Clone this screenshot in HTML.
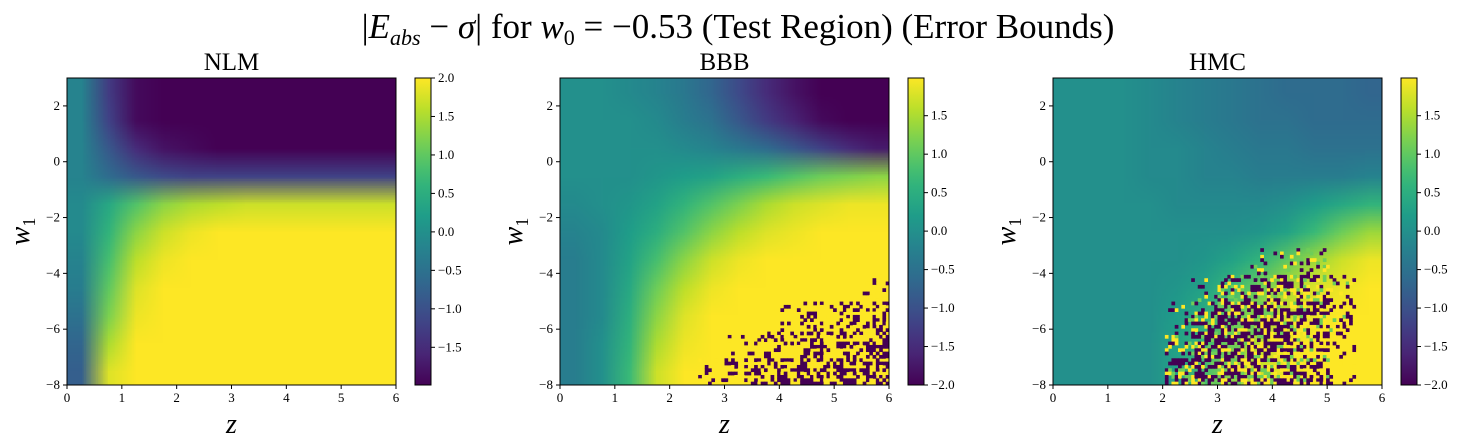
<!DOCTYPE html>
<html><head><meta charset="utf-8">
<style>
body{margin:0;background:#fff;width:1464px;height:448px;overflow:hidden;font-family:"Liberation Serif","DejaVu Serif",serif;}
svg{position:absolute;left:0;top:0}
</style></head>
<body>
<svg id="fig" width="1464" height="448" xmlns="http://www.w3.org/2000/svg">
<text x="738" y="38" text-anchor="middle" font-size="35">|<tspan font-style="italic">E</tspan><tspan font-style="italic" font-size="22" dy="7">abs</tspan><tspan dy="-7"> − </tspan><tspan font-style="italic">σ</tspan>| for <tspan font-style="italic">w</tspan><tspan font-size="22" dy="7">0</tspan><tspan dy="-7"> = −0.53 (Test Region) (Error Bounds)</tspan></text>
</svg>
<script>
const zTicks=[0,1,2,3,4,5,6];
const wTicks=[-8,-6,-4,-2,0,2];
const panelTitles=["NLM","BBB","HMC"];
const cbTicks0=[-1.5,-1.0,-0.5,0.0,0.5,1.0,1.5,2.0];
const cbTicks1=[-2.0,-1.5,-1.0,-0.5,0.0,0.5,1.0,1.5];
const cbRanges=[[-1.99,2.0],[-2.0,1.99],[-2.0,1.99]];
// rows: w1 = 2.5 .. -7.5 ; cols: z = 0.25 .. 5.75
const nlm=[
[-0.2,-1.3,-1.9,-2,-2,-2,-2,-2,-2,-2,-2,-2],
[-0.2,-1.2,-1.9,-2,-2,-2,-2,-2,-2,-2,-2,-2],
[-0.2,-0.9,-1.5,-1.8,-1.9,-2,-2,-2,-2,-2,-2,-2],
[-0.2,-0.6,-0.9,-1.1,-1.2,-1.2,-1.2,-1.2,-1.2,-1.2,-1.2,-1.2],
[-0.1,0.4,0.9,1.3,1.5,1.6,1.7,1.7,1.7,1.7,1.7,1.7],
[-0.1,0.6,1.3,1.7,1.9,2,2,2,2,2,2,2],
[-0.2,0.8,1.6,1.9,2,2,2,2,2,2,2,2],
[-0.3,1.0,1.8,2,2,2,2,2,2,2,2,2],
[-0.5,1.2,1.9,2,2,2,2,2,2,2,2,2],
[-0.7,1.5,2,2,2,2,2,2,2,2,2,2],
[-0.8,1.8,2,2,2,2,2,2,2,2,2,2]];
const bbb=[
[0,0,-0.1,-0.2,-0.4,-0.7,-1.1,-1.5,-1.8,-2,-2,-2],
[0,0,0,-0.1,-0.3,-0.5,-0.9,-1.3,-1.6,-1.9,-2,-2],
[0,0,0,0,-0.1,-0.2,-0.4,-0.6,-0.9,-1.2,-1.5,-1.7],
[0,0,0,0.1,0.2,0.3,0.5,0.7,0.9,1.1,1.2,1.3],
[-0.1,0,0.1,0.3,0.6,0.9,1.2,1.5,1.7,1.8,1.9,1.9],
[-0.2,-0.1,0.2,0.5,0.9,1.3,1.6,1.8,1.9,2,2,2],
[-0.3,-0.1,0.3,0.8,1.3,1.7,1.9,2,2,2,2,2],
[-0.3,-0.1,0.4,1.1,1.6,1.9,2,2,2,2,2,2],
[-0.3,-0.1,0.5,1.3,1.8,2,2,2,2,2,2,2],
[-0.3,0,0.6,1.5,1.9,2,2,2,2,2,2,2],
[-0.3,0,0.7,1.7,2,2,2,2,2,2,2,2]];
const hmc=[
[0,0,0,-0.1,-0.2,-0.3,-0.4,-0.5,-0.6,-0.6,-0.6,-0.7],
[0,0,0,-0.1,-0.2,-0.3,-0.4,-0.5,-0.5,-0.6,-0.6,-0.6],
[0,0,0,-0.1,-0.1,-0.2,-0.3,-0.4,-0.4,-0.5,-0.5,-0.5],
[0,0,0,-0.1,-0.1,-0.2,-0.2,-0.3,-0.3,-0.3,-0.3,-0.2],
[0,0,0,0,-0.1,-0.1,-0.1,-0.1,0,0.2,0.4,0.6],
[0,0,0,0,0,0,0,0.1,0.3,0.7,1.1,1.4],
[0,0,0,0,0,0.1,0.3,0.6,1.0,1.4,1.7,1.9],
[0,0,0,0,0.1,0.3,0.7,1.1,1.5,1.8,1.9,2],
[0,0,0,0,0.2,0.5,1.0,1.4,1.7,1.9,2,2],
[0,0,0,0,0.3,0.7,1.2,1.6,1.9,2,2,2],
[0,0,0,0,0.3,0.8,1.3,1.7,1.9,2,2,2]];
// fraction of noisy (unstable) cells per coarse cell
const bbbNoise=[
[0,0,0,0,0,0,0,0,0,0,0,0],[0,0,0,0,0,0,0,0,0,0,0,0],[0,0,0,0,0,0,0,0,0,0,0,0],
[0,0,0,0,0,0,0,0,0,0,0,0],[0,0,0,0,0,0,0,0,0,0,0,0],[0,0,0,0,0,0,0,0,0,0,0,0],
[0,0,0,0,0,0,0,0,0,0,0,0],[0,0,0,0,0,0,0,0,0,0,0,0.15],
[0,0,0,0,0,0,0,0,0.15,0.3,0.45,0.5],
[0,0,0,0,0,0,0.15,0.35,0.5,0.55,0.6,0.6],
[0,0,0,0,0,0.25,0.5,0.6,0.65,0.65,0.65,0.65]];
const hmcNoise=[
[0,0,0,0,0,0,0,0,0,0,0,0],[0,0,0,0,0,0,0,0,0,0,0,0],[0,0,0,0,0,0,0,0,0,0,0,0],
[0,0,0,0,0,0,0,0,0,0,0,0],[0,0,0,0,0,0,0,0,0,0,0,0],[0,0,0,0,0,0,0,0,0,0,0,0],
[0,0,0,0,0,0,0,0.15,0.25,0.2,0,0],
[0,0,0,0,0,0.15,0.45,0.6,0.65,0.55,0.2,0],
[0,0,0,0,0.15,0.5,0.7,0.75,0.75,0.7,0.35,0],
[0,0,0,0,0.35,0.7,0.8,0.8,0.8,0.7,0.2,0],
[0,0,0,0,0.5,0.75,0.8,0.8,0.8,0.65,0.1,0]];
const panels=[{x:67,cb:415,d:nlm,n:null,t:cbTicks0},{x:560,cb:908,d:bbb,n:bbbNoise,t:cbTicks1},{x:1053,cb:1401,d:hmc,n:hmcNoise,t:cbTicks1}];
const PT=78,PB=385,PW=329,CW=16;
const VIR=["#440154","#482878","#3e4989","#31688e","#26828e","#1f9e89","#35b779","#6ece58","#b5de2b","#fde725"];
function hex(h){return [1,3,5].map(i=>parseInt(h.substr(i,2),16));}
function vir(v){let t=Math.max(0,Math.min(1,(v+2)/4))*(VIR.length-1);let i=Math.min(VIR.length-2,Math.floor(t)),f=t-i;let a=hex(VIR[i]),b=hex(VIR[i+1]);return `rgb(${a.map((c,k)=>Math.round(c+(b[k]-c)*f)).join(",")})`;}
const NS="http://www.w3.org/2000/svg";
const svg=document.getElementById("fig");
function el(tag,attrs,parent){const e=document.createElementNS(NS,tag);for(const k in attrs)e.setAttribute(k,attrs[k]);(parent||svg).appendChild(e);return e;}
function sx(p,z){return p.x+z/6*PW;}
function sy(w){return PT+(3-w)/11*(PB-PT);}
function hash(i,j,s){let h=(i*374761393+j*668265263+s*2246822519)>>>0;h=(h^(h>>>13))*1274126177>>>0;return ((h^(h>>>16))>>>0)/4294967296;}
panels.forEach((p,pi)=>{
  const fo=el("foreignObject",{x:p.x,y:PT,width:PW,height:PB-PT});
  
  
  const cv=document.createElement("canvas");cv.width=12;cv.height=11;
  cv.style.width=PW+"px";cv.style.height=(PB-PT)+"px";cv.style.display="block";
  const ctx=cv.getContext("2d");
  p.d.forEach((row,r)=>row.forEach((v,c)=>{ctx.fillStyle=vir(v);ctx.fillRect(c,r,1,1);}));
  fo.appendChild(cv);
  if(p.n){
    const g=el("g",{});
    
    
    const NX=100,NY=92,cw=PW/NX,ch=(PB-PT)/NY;
    for(let j=0;j<NY;j++)for(let i=0;i<NX;i++){
      const r=Math.min(10,Math.floor(j/NY*11)),c=Math.min(11,Math.floor(i/NX*12));
      const f=p.n[r][c];
      if(f>0&&hash(i,j,pi)<f){
        const h2=hash(j,i,pi+7);
        const col=pi==2?(h2<0.55?"#440154":h2<0.85?"#fde725":"#6ece58"):(h2<0.65?"#440154":"#fde725");
        const rc=el("rect",{x:(p.x+i*cw).toFixed(2),y:(PT+j*ch).toFixed(2),width:(cw+0.4).toFixed(2),height:(ch+0.4).toFixed(2),fill:col},g);
        
        
      }
    }
  }
  const fr=el("rect",{x:p.x,y:PT,width:PW,height:PB-PT,fill:"none",stroke:"#000","stroke-width":1});
  
  
  zTicks.forEach(z=>{
    el("line",{x1:sx(p,z),x2:sx(p,z),y1:PB,y2:PB+4,stroke:"#000"});
    const t=el("text",{x:sx(p,z),y:PB+17,"text-anchor":"middle","font-size":13});t.textContent=z;
    
    
  });
  wTicks.forEach(w=>{
    el("line",{x1:p.x-4,x2:p.x,y1:sy(w),y2:sy(w),stroke:"#000"});
    const t=el("text",{x:p.x-7,y:sy(w)+4,"text-anchor":"end","font-size":13});t.textContent=w<0?"−"+(-w):w;
    
    
  });
  const tt=el("text",{x:p.x+PW/2,y:70,"text-anchor":"middle","font-size":25});tt.textContent=panelTitles[pi];
  
  
  const xl=el("text",{x:p.x+PW/2,y:433,"text-anchor":"middle","font-size":28,"font-style":"italic"});xl.textContent="z";
  
  
  const yl=el("text",{x:0,y:0,"text-anchor":"middle","font-size":28,"font-style":"italic",transform:`translate(${p.x-38},${(PT+PB)/2}) rotate(-90)`});
  yl.innerHTML='w<tspan font-size="18" font-style="normal" dy="6">1</tspan>';
  
  
  const gid="grad"+pi;const lg=el("linearGradient",{id:gid,x1:0,y1:1,x2:0,y2:0});
  const [lo,hi]=cbRanges[pi];
  for(let k=0;k<=20;k++){const v=lo+(hi-lo)*k/20;el("stop",{offset:k/20,"stop-color":vir(v)},lg);}
  const cb=el("rect",{x:p.cb,y:PT,width:CW,height:PB-PT,fill:`url(#${gid})`,stroke:"#000","stroke-width":1});
  
  
  p.t.forEach(v=>{
    const y=PB-(v-lo)/(hi-lo)*(PB-PT);
    el("line",{x1:p.cb+CW,x2:p.cb+CW+4,y1:y,y2:y,stroke:"#000"});
    const t=el("text",{x:p.cb+CW+7,y:y+4,"font-size":13});t.textContent=(v<0?"−"+(-v).toFixed(1):v.toFixed(1));
    
    
  });
});
</script>
</body></html>
